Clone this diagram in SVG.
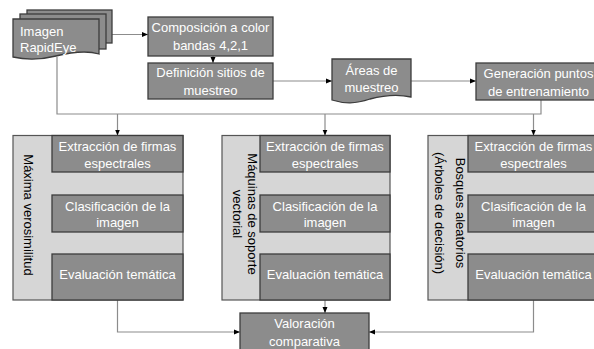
<svg xmlns="http://www.w3.org/2000/svg" width="594" height="349" viewBox="0 0 594 349">
<style>
  .box{fill:#8c8c8c;stroke:#3c3c3c;stroke-width:1.3}
  .panel{fill:#d6d6d6;stroke:#555555;stroke-width:1.2}
  .wt{font-family:"Liberation Sans",Arial,sans-serif;font-size:13px;fill:#ffffff;text-anchor:middle}
  .bt{font-family:"Liberation Sans",Arial,sans-serif;font-size:13px;fill:#000000;text-anchor:middle}
  .con{fill:none;stroke:#8c8c8c;stroke-width:1.2}
</style>
<defs>
  <marker id="arr" markerUnits="userSpaceOnUse" markerWidth="6" markerHeight="6" viewBox="0 0 6 6" refX="6" refY="3" orient="auto">
    <path d="M0,0.5 L6,3 L0,5.5 Z" fill="#000000"/>
  </marker>
</defs>
<g id="connectors">
  <path class="con" d="M112,34.5 H148" marker-end="url(#arr)"/>
  <path class="con" d="M213,56 V63" marker-end="url(#arr)"/>
  <path class="con" d="M273,81 H332" marker-end="url(#arr)"/>
  <path class="con" d="M411,81 H476" marker-end="url(#arr)"/>
  <path class="con" d="M541,100 V114 H57 V57"/>
  <path class="con" d="M117.5,114 V135.5" marker-end="url(#arr)"/>
  <path class="con" d="M325,114 V135.5" marker-end="url(#arr)"/>
  <path class="con" d="M533.5,114 V135.5" marker-end="url(#arr)"/>
  <path class="con" d="M117.5,172 V195" marker-end="url(#arr)"/>
  <path class="con" d="M117.5,232 V254" marker-end="url(#arr)"/>
  <path class="con" d="M325,172 V195" marker-end="url(#arr)"/>
  <path class="con" d="M325,232 V254" marker-end="url(#arr)"/>
  <path class="con" d="M533.5,172 V195" marker-end="url(#arr)"/>
  <path class="con" d="M533.5,232 V254" marker-end="url(#arr)"/>
  <path class="con" d="M117.5,300 V332 H240" marker-end="url(#arr)"/>
  <path class="con" d="M325,300 V313" marker-end="url(#arr)"/>
  <path class="con" d="M533.5,300 V332 H369" marker-end="url(#arr)"/>
</g>
<g id="imagen">
  <rect class="box" x="27" y="10" width="85" height="33"/>
  <rect class="box" x="20" y="14" width="86" height="35"/>
  <path class="box" d="M13,19 H99 V54 C86,50 72,52 56,56 C40,60 26,60 13,57 Z"/>
  <text class="wt" style="text-anchor:start" x="20" y="35.5">Imagen</text>
  <text class="wt" style="text-anchor:start" x="20" y="51.5">RapidEye</text>
</g>
<g id="composicion">
  <rect class="box" x="148" y="17" width="125" height="39"/>
  <text class="wt" x="210.5" y="32">Composición a color</text>
  <text class="wt" x="210.5" y="50">bandas 4,2,1</text>
</g>
<g id="definicion">
  <rect class="box" x="148" y="63" width="125" height="36"/>
  <text class="wt" x="210.5" y="76.5">Definición sitios de</text>
  <text class="wt" x="210.5" y="94.5">muestreo</text>
</g>
<g id="areas">
  <path class="box" d="M332,59 H411 V97 C398,94 385,95 370,99 C355,104 345,104 332,100 Z"/>
  <text class="wt" x="371.5" y="74.5">Áreas de</text>
  <text class="wt" x="371.5" y="91.5">muestreo</text>
</g>
<g id="generacion">
  <rect class="box" x="476" y="63" width="125" height="37"/>
  <text class="wt" x="538.5" y="77.5">Generación puntos</text>
  <text class="wt" x="538.5" y="96">de entrenamiento</text>
</g>
<g id="panel-mv">
  <rect class="panel" x="13" y="135.5" width="170" height="164.5"/>
  <text class="bt" transform="translate(28,215) rotate(90)" x="0" y="4.5">Máxima verosimilitud</text>
</g>
<g id="mv-extraccion">
  <rect class="box" x="52" y="135.5" width="131" height="36.5"/>
  <text class="wt" x="117.5" y="151">Extracción de firmas</text>
  <text class="wt" x="117.5" y="168">espectrales</text>
</g>
<g id="mv-clasificacion">
  <rect class="box" x="52" y="195" width="131" height="37"/>
  <text class="wt" x="117.5" y="211">Clasificación de la</text>
  <text class="wt" x="117.5" y="227">imagen</text>
</g>
<g id="mv-evaluacion">
  <rect class="box" x="52" y="254" width="131" height="46"/>
  <text class="wt" x="117.5" y="278.5">Evaluación temática</text>
</g>
<g id="panel-svm">
  <rect class="panel" x="222" y="135.5" width="168" height="164.5"/>
  <text class="bt" transform="translate(252,214) rotate(90)" x="0" y="4.5">Máquinas de soporte</text>
  <text class="bt" transform="translate(237,214) rotate(90)" x="0" y="4.5">vectorial</text>
</g>
<g id="svm-extraccion">
  <rect class="box" x="260" y="135.5" width="130" height="36.5"/>
  <text class="wt" x="325" y="151">Extracción de firmas</text>
  <text class="wt" x="325" y="168">espectrales</text>
</g>
<g id="svm-clasificacion">
  <rect class="box" x="260" y="195" width="130" height="37"/>
  <text class="wt" x="325" y="211">Clasificación de la</text>
  <text class="wt" x="325" y="227">imagen</text>
</g>
<g id="svm-evaluacion">
  <rect class="box" x="260" y="254" width="130" height="46"/>
  <text class="wt" x="325" y="278.5">Evaluación temática</text>
</g>
<g id="panel-rf">
  <rect class="panel" x="428" y="135.5" width="171" height="164.5"/>
  <text class="bt" transform="translate(460,213) rotate(90)" x="0" y="4.5">Bosques aleatorios</text>
  <text class="bt" transform="translate(439,213) rotate(90)" x="0" y="4.5">(Árboles de decisión)</text>
</g>
<g id="rf-extraccion">
  <rect class="box" x="468" y="135.5" width="131" height="36.5"/>
  <text class="wt" x="533.5" y="151">Extracción de firmas</text>
  <text class="wt" x="533.5" y="168">espectrales</text>
</g>
<g id="rf-clasificacion">
  <rect class="box" x="468" y="195" width="131" height="37"/>
  <text class="wt" x="533.5" y="211">Clasificación de la</text>
  <text class="wt" x="533.5" y="227">imagen</text>
</g>
<g id="rf-evaluacion">
  <rect class="box" x="468" y="254" width="131" height="46"/>
  <text class="wt" x="533.5" y="278.5">Evaluación temática</text>
</g>
<g id="valoracion">
  <rect class="box" x="240" y="313" width="129" height="38"/>
  <text class="wt" x="304.5" y="327.5">Valoración</text>
  <text class="wt" x="304.5" y="346">comparativa</text>
</g>
</svg>
